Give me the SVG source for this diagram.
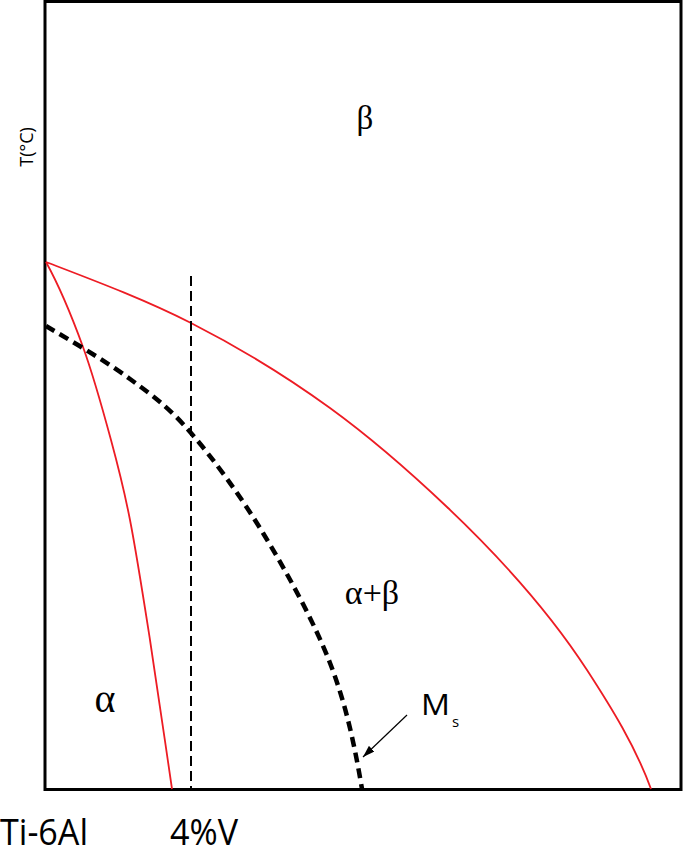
<svg xmlns="http://www.w3.org/2000/svg" width="683" height="855" viewBox="0 0 683 855">
<style>
.frame{fill:none;stroke:#000;stroke-width:3}
.red{fill:none;stroke:#ED1C24;stroke-width:1.8}
.ms{fill:none;stroke:#000;stroke-width:4.5;stroke-dasharray:10 6}
.v{fill:none;stroke:#000;stroke-width:2;stroke-dasharray:10 5}
.greek{font-family:"Liberation Serif","Times New Roman",serif;fill:#000}
.lab{font-family:"Open Sans","Liberation Sans",sans-serif;fill:#000}
</style>
<defs>
<marker id="ah" markerWidth="12" markerHeight="8" refX="12" refY="4" orient="auto" markerUnits="userSpaceOnUse">
<path d="M0,0 L12,4 L0,8 Z" fill="#000"/>
</marker>
</defs>
<rect class="frame" x="45" y="1.5" width="636" height="788"/>
<g id="connectors">
<path id="beta-transus" class="red" d="M46,262 C94.5,280.6 144.7,299.4 191,323 C239.1,347.5 286.3,376.3 330,408 C371.3,438 410,471.9 447,507 C499.2,556.5 547.8,609.6 587,670 C611.5,707.7 635.6,746.7 651,789"/>
<path id="alpha-solvus" class="red" d="M46,262 C61.4,290 72.2,317.3 83,347 C93.8,376.7 103.2,411.2 111,440 C118.8,468.8 123.5,486.7 130,520 C136.5,553.3 143,595.2 150,640 C157,684.8 164.7,739.3 172,789"/>
<path id="ms-line" class="ms" d="M46,326 C74,342.6 105.8,361.2 130,379 C154.2,396.8 168.8,407.3 191,433 C213.2,458.7 239.8,494.7 263,533 C286.2,571.3 313.5,620.3 330,663 C346.5,705.7 354.9,747 362,789"/>
<line id="composition" class="v" x1="191" y1="276" x2="191" y2="789"/>
<line id="ms-arrow" x1="407" y1="715" x2="363" y2="757" stroke="#000" stroke-width="1.2" marker-end="url(#ah)"/>
</g>
<g id="label-beta"><text class="greek" x="365" y="129" font-size="33" text-anchor="middle">β</text></g>
<g id="label-alphabeta"><text class="greek" x="372" y="604" font-size="34" text-anchor="middle">α+β</text></g>
<g id="label-alpha"><text class="greek" x="105" y="712" font-size="40" text-anchor="middle">α</text></g>
<g id="label-ms"><text class="lab" x="421" y="715" font-size="30" textLength="29" lengthAdjust="spacingAndGlyphs">M</text><text class="lab" x="452" y="727" font-size="15">s</text></g>
<g id="axis-y"><text class="lab" transform="translate(33,147) rotate(-90)" font-size="18" text-anchor="middle">T(°C)</text></g>
<g id="axis-x">
<text class="lab" x="0" y="845" font-size="36" textLength="88" lengthAdjust="spacingAndGlyphs">Ti-6Al</text>
<text class="lab" x="170" y="845" font-size="36" textLength="68" lengthAdjust="spacingAndGlyphs">4%V</text>
</g>
</svg>
